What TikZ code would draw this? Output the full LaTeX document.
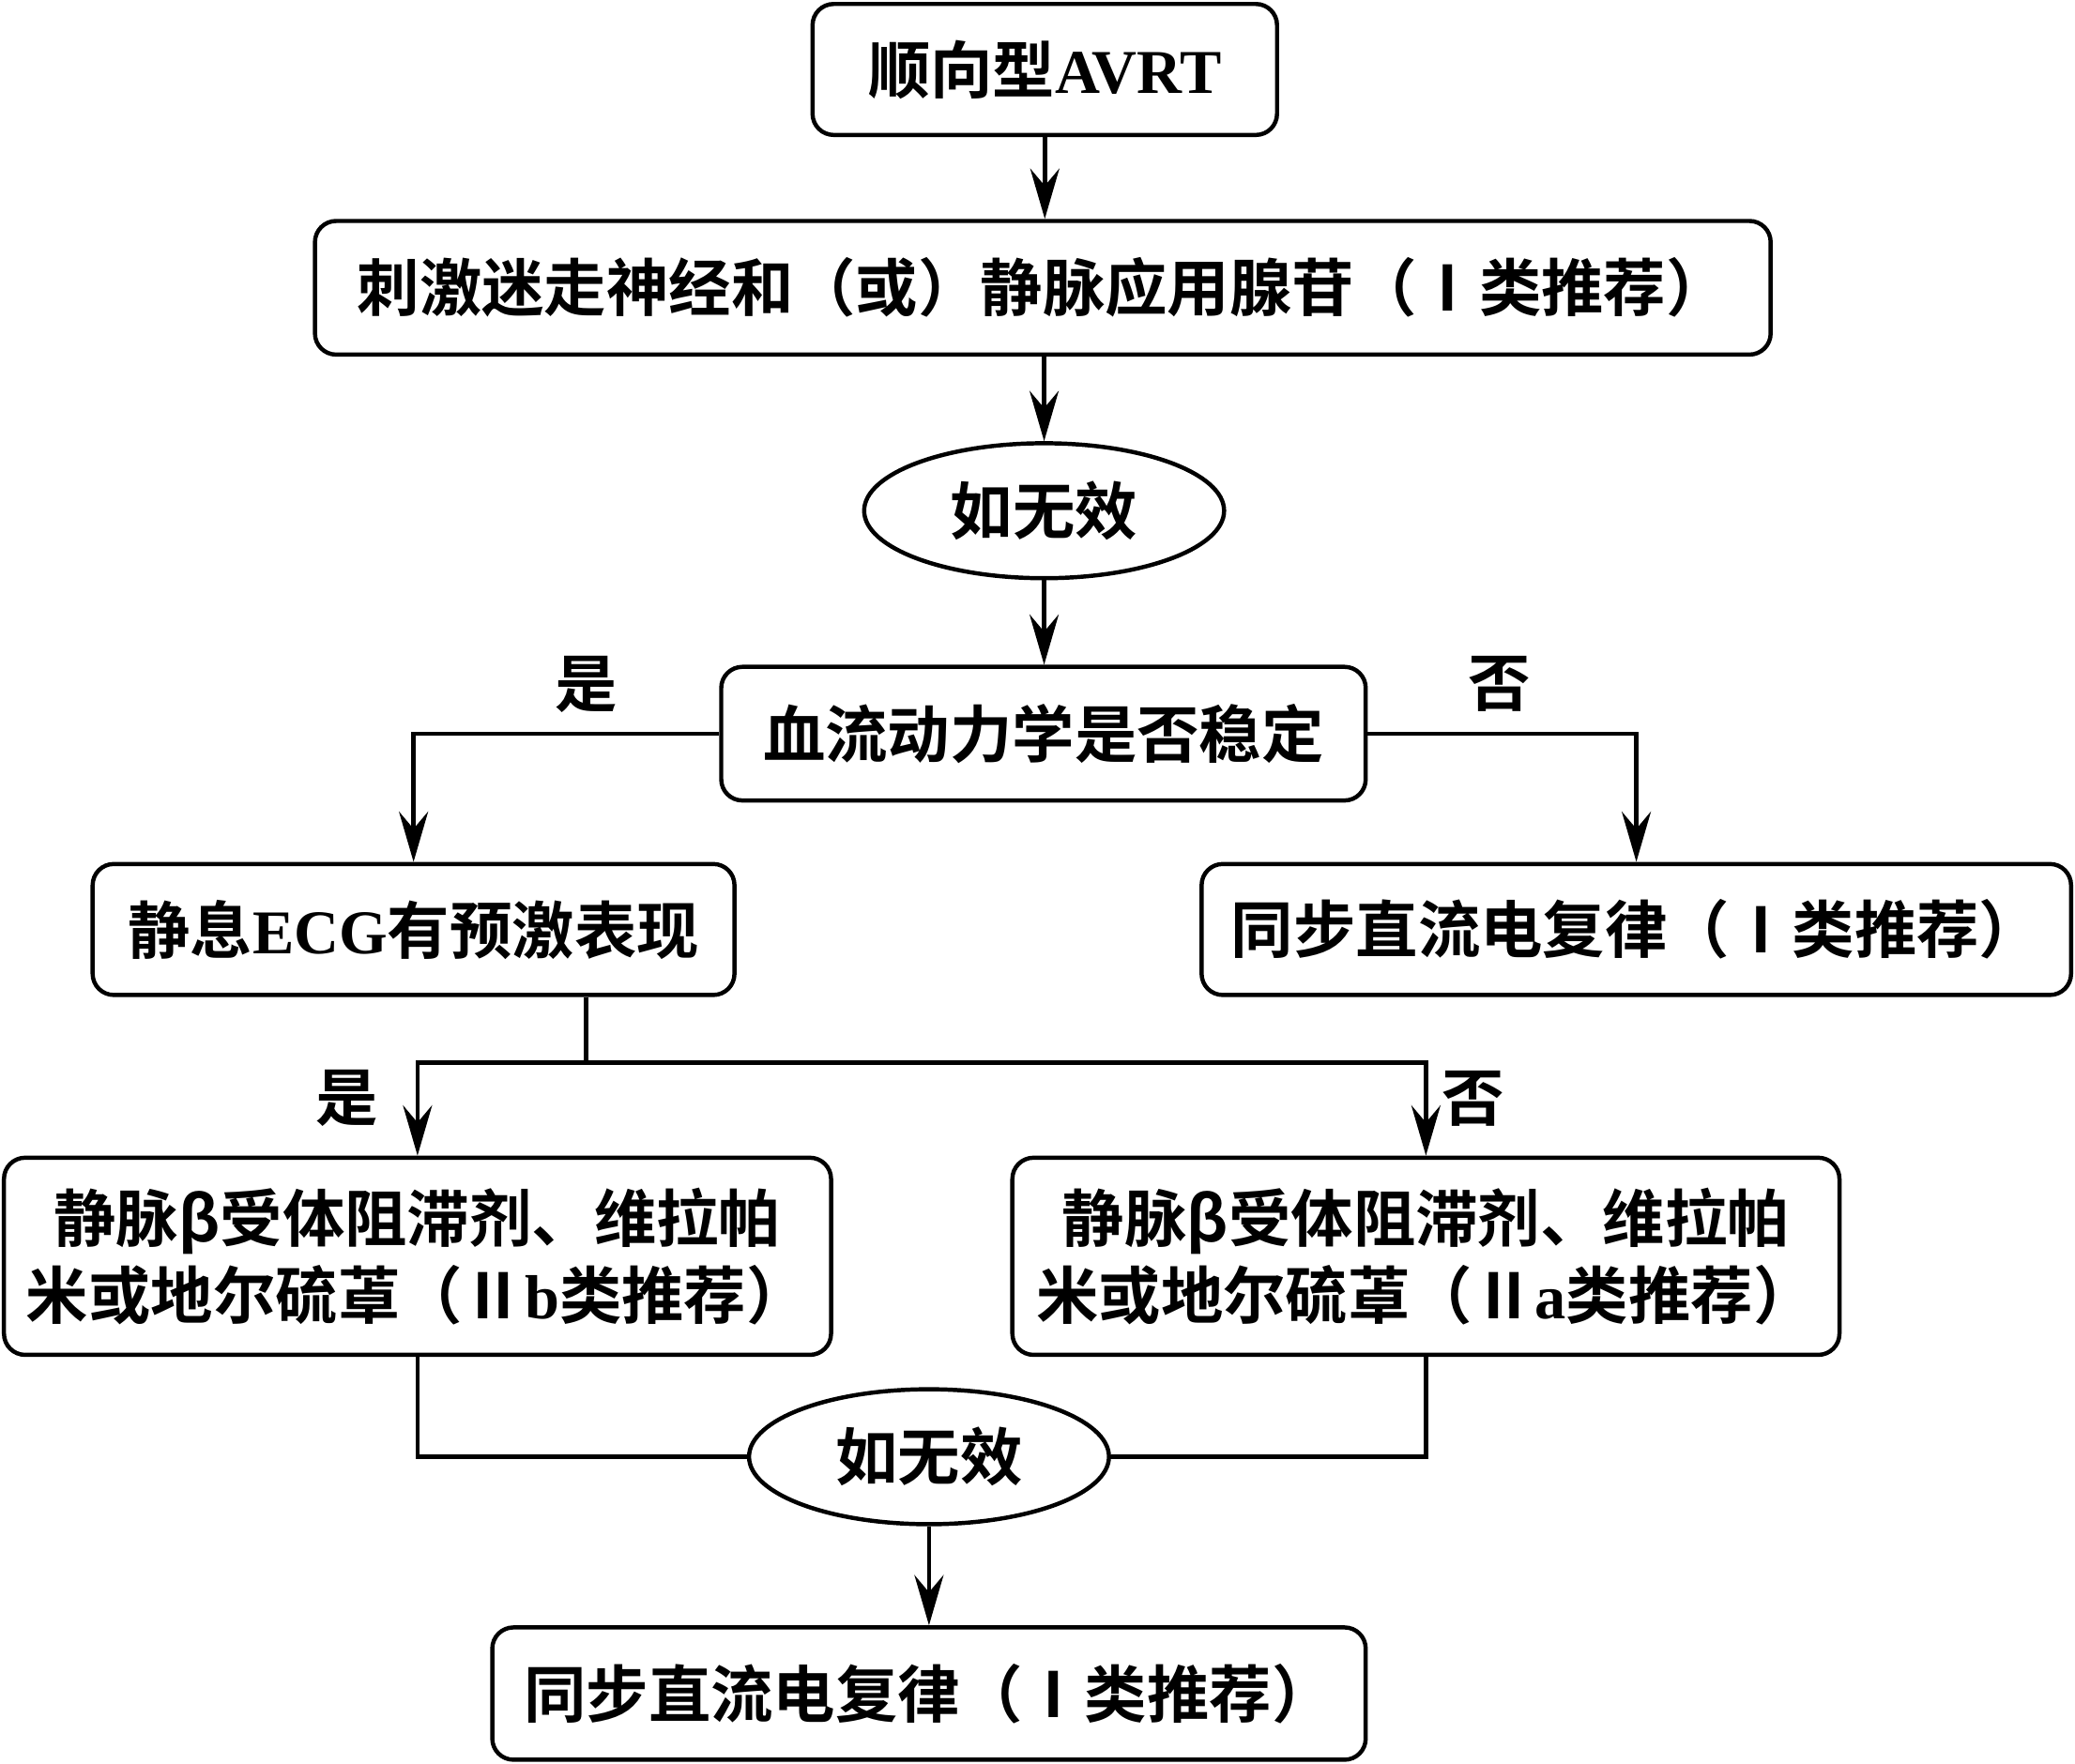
\documentclass[tikz,border=0pt]{standalone}
\usepackage{fontspec}
\usepackage{tikz}
\usetikzlibrary{positioning,arrows.meta,shapes.geometric}
\setmainfont{Noto Sans CJK SC}[BoldFont=* Bold]
\newfontfamily\lat{Liberation Serif}

\begin{document}
\begin{tikzpicture}[
  line width=0.9pt,
  box/.style={draw, rounded corners=0.16cm, inner sep=0pt, align=center, font=\bfseries},
  oval/.style={draw, ellipse, inner sep=0pt, minimum width=2.72cm, minimum height=1.02cm, font=\bfseries},
  pfeil/.style={-{Stealth[length=3.8mm,width=2.2mm,inset=1.3mm]}},
  marke/.style={font=\bfseries}
]
\fontsize{13.4}{16.5}\selectfont
\useasboundingbox (0,0) rectangle (15.68,-13.33);

% Kaesten
\node[box, minimum width=3.51cm, minimum height=0.99cm] (avrt) at (7.895,-0.525) {顺向型{\lat\bfseries AVRT}};
\node[box, minimum width=11.00cm, minimum height=1.01cm] (vagus) at (7.88,-2.175) {刺激迷走神经和（或）静脉应用腺苷（Ⅰ类推荐）};
\node[oval] (unwirk1) at (7.89,-3.86) {如无效};
\node[box, minimum width=4.87cm, minimum height=1.01cm] (stabil) at (7.885,-5.545) {血流动力学是否稳定};
\node[box, minimum width=4.85cm, minimum height=0.99cm] (ekg) at (3.125,-7.025) {静息{\lat\bfseries ECG}有预激表现};
\node[box, minimum width=6.57cm, minimum height=0.99cm] (kardio1) at (12.365,-7.025) {同步直流电复律（Ⅰ类推荐）};
\node[box, minimum width=6.25cm, minimum height=1.49cm] (med1) at (3.155,-9.495) {静脉β受体阻滞剂、维拉帕\\米或地尔硫䓬（Ⅱ{\lat\bfseries b}类推荐）};
\node[box, minimum width=6.25cm, minimum height=1.49cm] (med2) at (10.775,-9.495) {静脉β受体阻滞剂、维拉帕\\米或地尔硫䓬（Ⅱ{\lat\bfseries a}类推荐）};
\node[oval] (unwirk2) at (7.02,-11.01) {如无效};
\node[box, minimum width=6.60cm, minimum height=1.00cm] (kardio2) at (7.02,-12.80) {同步直流电复律（Ⅰ类推荐）};

% Verbindungen oben
\draw[pfeil] (avrt.south) -- (vagus.north -| avrt.south);
\draw[pfeil] (vagus.south -| unwirk1.north) -- (unwirk1.north);
\draw[pfeil] (unwirk1.south) -- (stabil.north -| unwirk1.south);

% Verzweigung stabil
\draw[pfeil] (stabil.west) -| (ekg.north);
\draw[pfeil] (stabil.east) -| (kardio1.north);
\node[marke] (ja1) at (4.43,-5.17) {是};
\node[marke] (nein1) at (11.33,-5.17) {否};

% Verzweigung EKG
\coordinate (teil) at (4.43,-8.03);
\draw (ekg.south -| teil) -- (teil);
\draw[pfeil] (teil) -| (med1.north);
\draw[pfeil] (teil) -| (med2.north);
\node[marke] (ja2) at (2.62,-8.30) {是};
\node[marke] (nein2) at (11.13,-8.30) {否};

% Zusammenfuehrung
\draw (med1.south) |- (unwirk2.west);
\draw (med2.south) |- (unwirk2.east);
\draw[pfeil] (unwirk2.south) -- (kardio2.north);
\end{tikzpicture}
\end{document}
